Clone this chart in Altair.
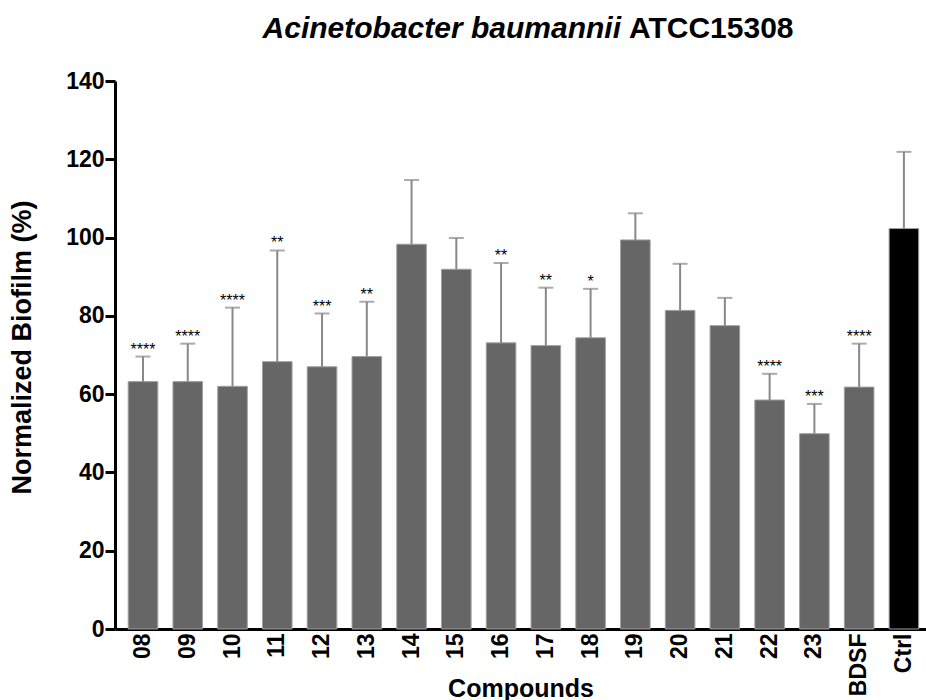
import altair as alt
import pandas as pd

categories = ["08", "09", "10", "11", "12", "13", "14", "15", "16", "17",
              "18", "19", "20", "21", "22", "23", "BDSF", "Ctrl"]
means = [63.2, 63.2, 62.0, 68.3, 67.0, 69.6, 98.3, 91.9, 73.1, 72.4,
         74.4, 99.4, 81.4, 77.5, 58.5, 49.9, 61.8, 102.3]
err_tops = [69.6, 72.9, 82.1, 96.7, 80.6, 83.6, 114.7, 99.9, 93.5, 87.2,
            86.9, 106.2, 93.3, 84.6, 65.2, 57.5, 72.9, 121.9]
stars = ["****", "****", "****", "**", "***", "**", "", "", "**", "**",
         "*", "", "", "", "****", "***", "****", ""]
groups = ["test"] * 17 + ["ctrl"]

title_italic = "Acinetobacter baumannii"
title_plain = "ATCC15308"

FONT = "Liberation Sans"

df = pd.DataFrame({
    "cat": categories,
    "mean": means,
    "top": err_tops,
    "stars": stars,
    "group": groups,
})

xscale = alt.Scale(paddingInner=0.339, paddingOuter=0.229, align=0.644)
x = alt.X("cat:N", sort=categories, scale=xscale,
          axis=alt.Axis(title="Compounds", labelAngle=-90, ticks=False,
                        labelPadding=4, labelFont=FONT, labelFontSize=23,
                        labelFontWeight="bold", labelColor="black",
                        titleFont=FONT, titleFontSize=25, titleFontWeight="bold",
                        titleColor="black", titleY=67, titleBaseline="alphabetic",
                        domainColor="black", domainWidth=3))
yscale = alt.Scale(domain=[0, 140], nice=False)
yaxis = alt.Axis(title="Normalized Biofilm (%)", values=[0, 20, 40, 60, 80, 100, 120, 140],
                 grid=False, tickSize=10, tickWidth=3, tickColor="black",
                 domainColor="black", domainWidth=3, labelPadding=1,
                 labelFont=FONT, labelFontSize=23, labelFontWeight="bold",
                 labelColor="black", titleFont=FONT, titleFontSize=27,
                 titleFontWeight="bold", titleColor="black",
                 titleX=-79, titleY=266, titleBaseline="bottom")

base = alt.Chart(df)

bars = base.mark_bar(stroke="#a0a0a0", strokeWidth=1).encode(
    x=x,
    y=alt.Y("mean:Q", scale=yscale, axis=yaxis),
    fill=alt.Color("group:N", scale=alt.Scale(domain=["test", "ctrl"],
                                              range=["#666666", "#000000"]),
                   legend=None),
)

rules = base.mark_rule(color="#888888", strokeWidth=2).encode(
    x=alt.X("cat:N", sort=categories),
    y=alt.Y("mean:Q"),
    y2="top:Q",
)

caps = base.mark_tick(color="#888888", thickness=2, size=15, orient="horizontal").encode(
    x=alt.X("cat:N", sort=categories),
    y=alt.Y("top:Q"),
)

star_text = base.mark_text(font=FONT, fontSize=16, color="black",
                           baseline="alphabetic", dy=-2).encode(
    x=alt.X("cat:N", sort=categories),
    y=alt.Y("top:Q"),
    text="stars:N",
)

t1 = alt.Chart(pd.DataFrame({"t": [title_italic]})).mark_text(
    font=FONT, fontSize=30, fontWeight="bold", fontStyle="italic",
    align="right", baseline="alphabetic", color="black"
).encode(x=alt.value(506), y=alt.value(-43), text="t:N")

t2 = alt.Chart(pd.DataFrame({"t": [title_plain]})).mark_text(
    font=FONT, fontSize=30, fontWeight="bold",
    align="left", baseline="alphabetic", color="black"
).encode(x=alt.value(514), y=alt.value(-43), text="t:N")

chart = alt.layer(bars, rules, caps, star_text, t1, t2).properties(
    width=811, height=548,
    background="white",
    autosize=alt.AutoSizeParams(type="none"),
    padding={"left": 115, "top": 81, "right": 0, "bottom": 71},
).configure_view(strokeWidth=0, stroke="transparent")

chart.save("out.html", embed_options={"renderer": "svg", "actions": False})
